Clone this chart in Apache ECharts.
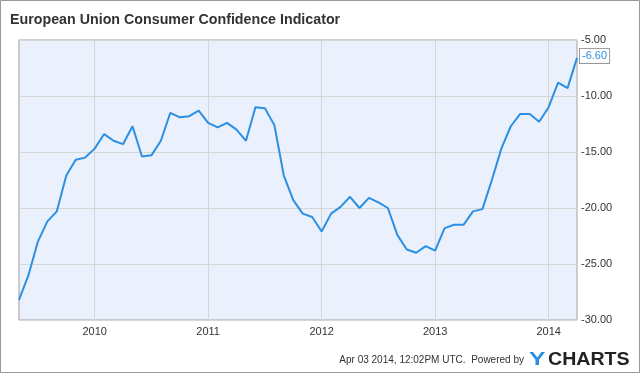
<!DOCTYPE html>
<html>
<head>
<meta charset="utf-8">
<script src="https://cdn.jsdelivr.net/npm/echarts@6/dist/echarts.min.js"></script>
<style>
html,body{margin:0;padding:0;background:#fff;}
#c{width:640px;height:373px;}
</style>
</head>
<body>
<div id="c"></div>
<script>
// Months counted from Jan 2009 (end-of-month points: Apr 2009 = 4 ... Mar 2014 = 63)
const firstMonth = 4;
const values = [
  -28.2, -26.0, -23.0, -21.2, -20.3, -17.1, -15.7, -15.5, -14.7, -13.4,
  -14.0, -14.3, -12.7, -15.4, -15.3, -14.0, -11.5, -11.9, -11.8, -11.3,
  -12.4, -12.8, -12.4, -13.0, -14.0, -11.0, -11.1, -12.6, -17.1, -19.3,
  -20.5, -20.8, -22.1, -20.5, -19.9, -19.0, -20.0, -19.1, -19.5, -20.0,
  -22.4, -23.7, -24.0, -23.4, -23.8, -21.8, -21.5, -21.5, -20.3, -20.1,
  -17.5, -14.7, -12.7, -11.6, -11.6, -12.3, -11.0, -8.8, -9.3, -6.6
];
const yearTicks = [12, 24, 36, 48, 60];
const yearLabels = ['2010', '2011', '2012', '2013', '2014'];

const FONT = 'Liberation Sans, Arial, sans-serif';
const data = values.map((v, i) => [firstMonth + i, v]);

const chart = echarts.init(document.getElementById('c'), null, {renderer: 'canvas'});
chart.setOption({
  animation: false,
  textStyle: {fontFamily: FONT},
  grid: {
    left: 19, right: 63, top: 40, bottom: 53,
    show: true, backgroundColor: '#ebf1fc', borderColor: '#a0a0a0', borderWidth: 1
  },
  xAxis: {
    type: 'value',
    min: firstMonth,
    max: firstMonth + values.length - 1,
    axisLine: {show: false},
    axisTick: {show: false, customValues: yearTicks},
    splitLine: {show: true, lineStyle: {color: '#d6d6d6', width: 1}},
    axisLabel: {
      customValues: yearTicks,
      formatter: (v) => yearLabels[yearTicks.indexOf(v)],
      color: '#333', fontSize: 11, margin: 6
    }
  },
  yAxis: {
    type: 'value',
    position: 'right',
    min: -30, max: -5, interval: 5,
    axisLine: {show: false},
    axisTick: {show: false},
    splitLine: {show: true, lineStyle: {color: '#d6d6d6', width: 1}},
    axisLabel: {
      formatter: (v) => v.toFixed(2),
      color: '#333', fontSize: 11, margin: 4
    }
  },
  graphic: [
    {type: 'rect', shape: {x: 0.5, y: 0.5, width: 639, height: 372}, style: {fill: 'none', stroke: '#999', lineWidth: 1}, silent: true},
    {type: 'text', x: 10, y: 20, scaleX: 0.95, style: {
      text: 'European Union Consumer Confidence Indicator',
      fill: '#333', fontSize: 15, fontWeight: 'bold', fontFamily: FONT,
      verticalAlign: 'middle', align: 'left'
    }},
    {type: 'text', x: 524, y: 359.5, scaleX: 0.91, style: {
      text: 'Apr 03 2014, 12:02PM UTC.  Powered by',
      fill: '#333', fontSize: 11, fontFamily: FONT, align: 'right', verticalAlign: 'middle'
    }},
    {type: 'text', x: 529, y: 360, scaleX: 1.3, style: {
      text: 'Y', fill: '#2b8fe3', fontSize: 19, fontWeight: 'bold', fontFamily: FONT,
      align: 'left', verticalAlign: 'middle'
    }},
    {type: 'text', x: 548, y: 360, scaleX: 1.03, style: {
      text: 'CHARTS', fill: '#222', fontSize: 19, fontWeight: 'bold', fontFamily: FONT,
      align: 'left', verticalAlign: 'middle'
    }}
  ],
  series: [{
    type: 'line',
    data: data,
    showSymbol: false,
    symbol: 'none',
    lineStyle: {color: '#2b8fe3', width: 2},
    itemStyle: {color: '#2b8fe3'},
    endLabel: {
      show: true,
      distance: 3,
      formatter: (p) => p.value[1].toFixed(2),
      color: '#2b8fe3',
      fontSize: 11,
      fontFamily: FONT,
      backgroundColor: '#fff',
      borderColor: '#999',
      borderWidth: 1,
      padding: [2, 2, 1, 2],
      offset: [0, -2]
    }
  }]
});
</script>
</body>
</html>
